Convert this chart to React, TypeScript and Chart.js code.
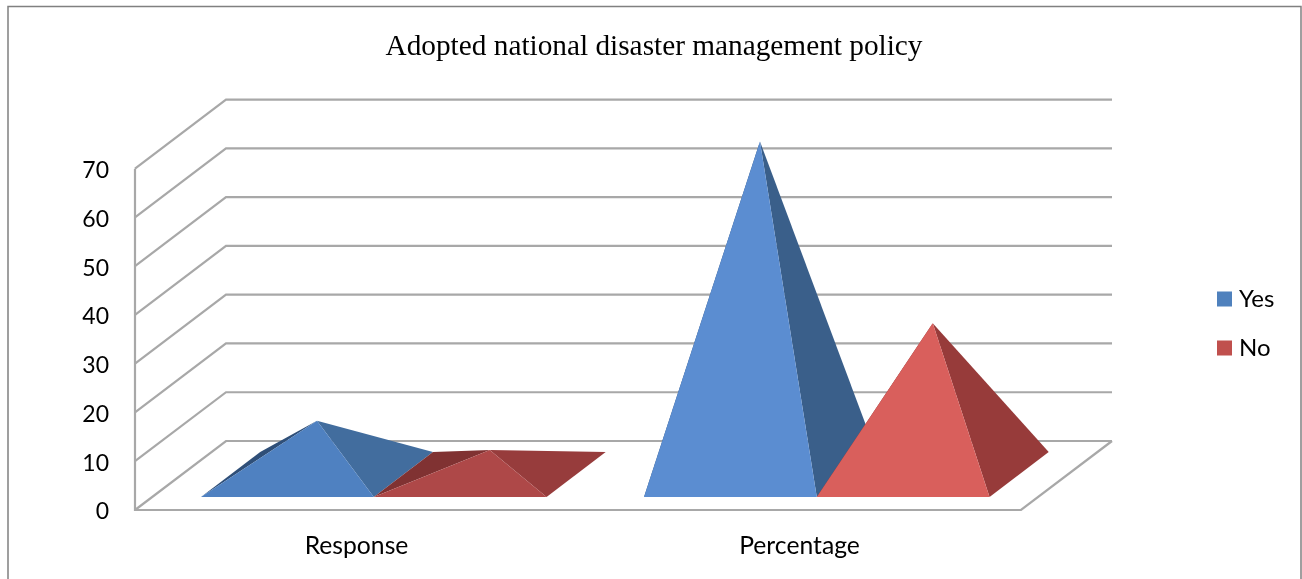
import React, { useEffect, useRef } from "react";
import { Chart, registerables } from "chart.js";

Chart.register(...registerables);

const titleText = "Adopted national disaster management policy";
const categories = ["Response", "Percentage"];
const seriesNames = ["Yes", "No"];
const yesValues = [11, 68.3];
const noValues = [5, 31];
const tickStep = 10;
const axisMax = 70;

const legendColours = ["#4f81bd", "#c0504d"];

// Shaded faces per series, then per category: left, right, front.
const faceColours = [
  [
    { left: "#2f4f78", right: "#426d9e", front: "#4f81c1" },
    { left: "#2f4f78", right: "#3a5f8a", front: "#5b8dd1" },
  ],
  [
    { left: "#803232", right: "#973c3c", front: "#ae4848" },
    { left: "#803232", right: "#973b3a", front: "#d95f5c" },
  ],
];

// Oblique projection of the value axis plane into the depth of the box.
const DEPTH_X = 91;
const DEPTH_Y = -69;
const BASE_NEAR = 0.19;
const BASE_FAR = 0.84;

const gridColour = "#a8a8a8";

const project = (x: number, y: number, depth: number) => ({
  x: x + DEPTH_X * depth,
  y: y + DEPTH_Y * depth,
});

const fillFace = (ctx: CanvasRenderingContext2D, pts: { x: number; y: number }[], colour: string) => {
  ctx.beginPath();
  pts.forEach((p, i) => (i ? ctx.lineTo(p.x, p.y) : ctx.moveTo(p.x, p.y)));
  ctx.closePath();
  ctx.fillStyle = colour;
  ctx.fill();
};

const pyramidBox = {
  id: "pyramidBox",
  // Centres the title on the page and places the legend in the right margin.
  afterLayout(chart: any) {
    const title = chart.titleBlock;
    title.left = 0;
    title.right = 1308;
    const legend = chart.legend;
    const w = legend.width;
    const h = legend.height;
    legend.left = 1197;
    legend.right = 1197 + w;
    legend.top = 262;
    legend.bottom = 262 + h;
  },
  beforeDraw(chart: any) {
    const { ctx, width, height } = chart;
    ctx.save();
    ctx.fillStyle = "#ffffff";
    ctx.fillRect(0, 0, width, height);
    ctx.strokeStyle = "#808080";
    ctx.lineWidth = 1.5;
    ctx.beginPath();
    ctx.moveTo(8, height);
    ctx.lineTo(8, 6.5);
    ctx.lineTo(1301, 6.5);
    ctx.lineTo(1301, height);
    ctx.stroke();
    ctx.restore();
  },
  // Side wall, back wall and floor, taken from the value scale's ticks.
  beforeDatasetsDraw(chart: any) {
    const { ctx, chartArea, scales } = chart;
    const { left, right, bottom, top } = chartArea;
    ctx.save();
    ctx.strokeStyle = gridColour;
    ctx.lineWidth = 2.2;
    ctx.lineJoin = "miter";
    scales.y.ticks.forEach((tick: any) => {
      const y = scales.y.getPixelForValue(tick.value);
      const back = project(left, y, 1);
      ctx.beginPath();
      ctx.moveTo(left, y);
      ctx.lineTo(back.x, back.y);
      ctx.lineTo(right + DEPTH_X, back.y);
      ctx.stroke();
    });
    const floorBack = project(right, bottom, 1);
    ctx.beginPath();
    ctx.moveTo(left, top);
    ctx.lineTo(left, bottom);
    ctx.lineTo(right, bottom);
    ctx.lineTo(floorBack.x, floorBack.y);
    ctx.stroke();
    ctx.restore();
  },
  // The bar elements only supply geometry; pyramids are painted in their place.
  beforeDatasetDraw() {
    return false;
  },
  afterDatasetsDraw(chart: any) {
    const { ctx } = chart;
    const zero = chart.scales.y.getPixelForValue(0);
    ctx.save();
    categories.forEach((_, c) => {
      chart.data.datasets.forEach((_d: any, s: number) => {
        const bar = chart.getDatasetMeta(s).data[c];
        const half = bar.width / 2;
        const frontLeft = project(bar.x - half, zero, BASE_NEAR);
        const frontRight = project(bar.x + half, zero, BASE_NEAR);
        const backLeft = project(bar.x - half, zero, BASE_FAR);
        const backRight = project(bar.x + half, zero, BASE_FAR);
        const apex = project(bar.x, bar.y, (BASE_NEAR + BASE_FAR) / 2);
        const faces = faceColours[s][c];
        fillFace(ctx, [frontLeft, backLeft, apex], faces.left);
        fillFace(ctx, [frontRight, backRight, apex], faces.right);
        fillFace(ctx, [frontLeft, frontRight, apex], faces.front);
      });
    });
    ctx.restore();
  },
};

export default function App() {
  const ref = useRef<HTMLCanvasElement>(null);

  useEffect(() => {
    document.body.style.margin = "0";
    const chart = new Chart(ref.current as HTMLCanvasElement, {
      type: "bar",
      data: {
        labels: categories,
        datasets: [
          { label: seriesNames[0], data: yesValues, backgroundColor: legendColours[0] },
          { label: seriesNames[1], data: noValues, backgroundColor: legendColours[1] },
        ],
      },
      plugins: [pyramidBox],
      options: {
        responsive: false,
        animation: false,
        layout: { padding: { left: 6, right: 281, top: 0, bottom: 0 } },
        datasets: { bar: { categoryPercentage: 0.78, barPercentage: 1 } },
        scales: {
          x: {
            grid: { display: false },
            border: { display: false },
            ticks: {
              color: "#000000",
              padding: 13,
              font: { family: "Lato", size: 24.7 },
              maxRotation: 0,
            },
            afterFit(scale: any) {
              scale.height = 69;
            },
          },
          y: {
            min: 0,
            max: axisMax,
            grid: { display: false },
            border: { display: false },
            ticks: {
              stepSize: tickStep,
              color: "#000000",
              padding: 18,
              labelOffset: 2,
              font: { family: "Lato", size: 23 },
            },
            afterFit(scale: any) {
              scale.width = 129;
            },
          },
        },
        plugins: {
          tooltip: { enabled: false },
          title: {
            display: true,
            text: titleText,
            color: "#000000",
            font: { family: "Liberation Serif", size: 29.3, weight: "normal" },
            padding: { top: 30, bottom: 103.5 },
          },
          legend: {
            position: "chartArea",
            align: "start",
            labels: {
              usePointStyle: true,
              pointStyle: "rect",
              boxWidth: 5,
              boxHeight: 15,
              padding: 25,
              color: "#000000",
              font: { family: "Lato", size: 24 },
            },
          },
        },
      },
    } as any);
    return () => chart.destroy();
  }, []);

  return <canvas ref={ref} width={1302} height={579} style={{ display: "block" }} />;
}
